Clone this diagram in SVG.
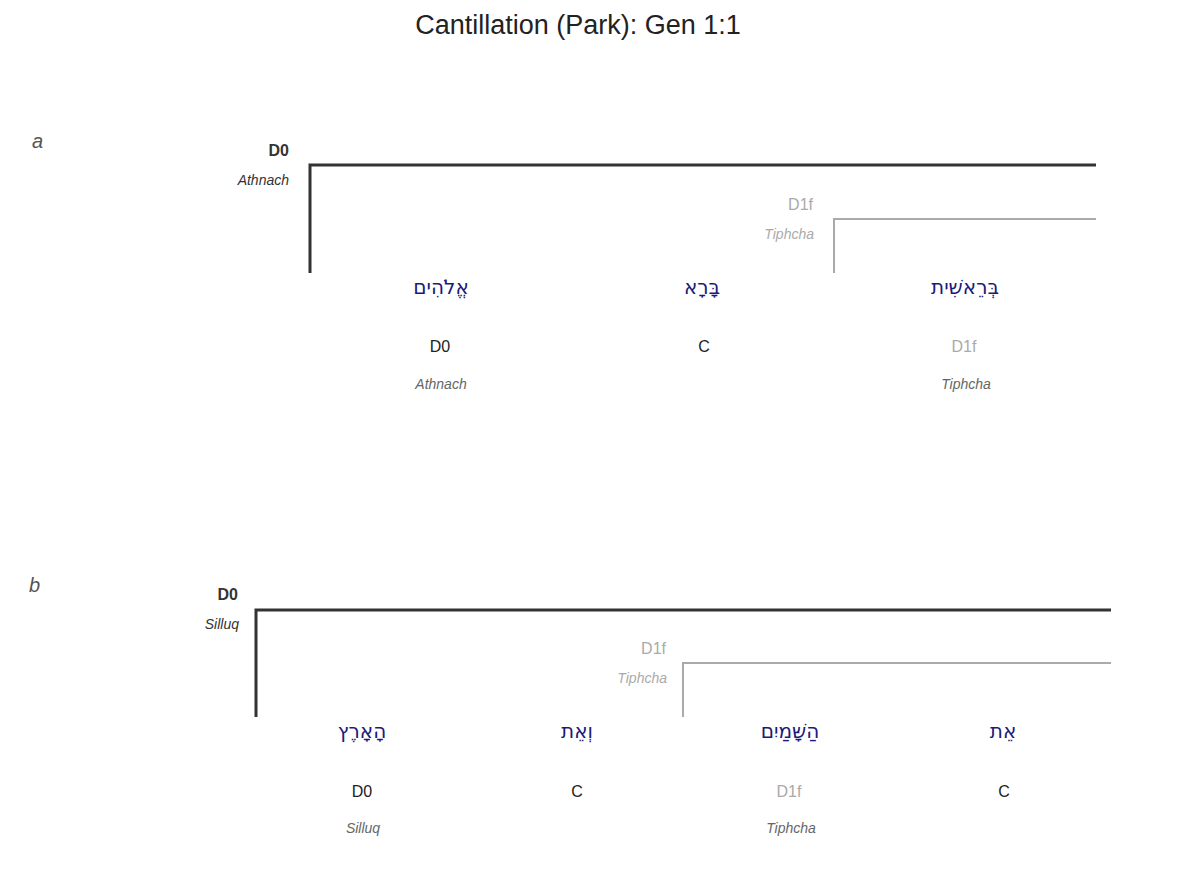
<svg xmlns="http://www.w3.org/2000/svg" width="1192" height="888" viewBox="0 0 1192 888">
<style>
text{font-family:"Liberation Sans","DejaVu Sans",sans-serif}
.heb{font-size:20px;fill:#1a1a7a;text-anchor:middle;font-family:"DejaVu Sans","Noto Sans",sans-serif}
.lab{font-size:16px;fill:#222;text-anchor:middle}
.lab.g{fill:#aaa}
.acc{font-size:14px;font-style:italic;fill:#666;text-anchor:middle}
.d0{font-size:16px;font-weight:bold;fill:#333;text-anchor:end}
.d0a{font-size:14px;font-style:italic;fill:#333;text-anchor:end}
.d1{font-size:16px;fill:#aaa;text-anchor:end}
.d1a{font-size:14px;font-style:italic;fill:#aaa;text-anchor:end}
.sec{font-size:20px;font-style:italic;fill:#555}
.b0{fill:none;stroke:#333;stroke-width:3}
.b1{fill:none;stroke:#aaa;stroke-width:2}
</style>
<rect width="1192" height="888" fill="#fff"/>
<text x="578" y="34" font-size="27" fill="#222" text-anchor="middle">Cantillation (Park): Gen 1:1</text>
<g id="connectors">
<path class="b0" d="M310 273V165H1096"/>
<path class="b1" d="M834 273V219H1096"/>
<path class="b0" d="M256 717V610H1111"/>
<path class="b1" d="M683 717V663H1111"/>
</g>
<g id="panel-a">
<text class="sec" x="32" y="148">a</text>
<text class="d0" x="289" y="156">D0</text>
<text class="d0a" x="289" y="185">Athnach</text>
<text class="d1" x="813" y="210">D1f</text>
<text class="d1a" x="814" y="239">Tiphcha</text>
</g>
<g id="a-w1"><text class="heb" x="441" y="294">אֱלֹהִים</text><text class="lab" x="440" y="352">D0</text><text class="acc" x="441" y="389">Athnach</text></g>
<g id="a-w2"><text class="heb" x="702" y="294">בָּרָא</text><text class="lab" x="704" y="352">C</text></g>
<g id="a-w3"><text class="heb" x="965" y="294">בְּרֵאשִׁית</text><text class="lab g" x="964" y="352">D1f</text><text class="acc" x="966" y="389">Tiphcha</text></g>
<g id="panel-b">
<text class="sec" x="29" y="592">b</text>
<text class="d0" x="238" y="600">D0</text>
<text class="d0a" x="239" y="629">Silluq</text>
<text class="d1" x="666" y="654">D1f</text>
<text class="d1a" x="667" y="683">Tiphcha</text>
</g>
<g id="b-w1"><text class="heb" x="362" y="738">הָאָרֶץ</text><text class="lab" x="362" y="797">D0</text><text class="acc" x="363" y="833">Silluq</text></g>
<g id="b-w2"><text class="heb" x="577" y="738">וְאֵת</text><text class="lab" x="577" y="797">C</text></g>
<g id="b-w3"><text class="heb" x="790" y="738">הַשָּׁמַיִם</text><text class="lab g" x="789" y="797">D1f</text><text class="acc" x="791" y="833">Tiphcha</text></g>
<g id="b-w4"><text class="heb" x="1003" y="738">אֵת</text><text class="lab" x="1004" y="797">C</text></g>
</svg>
